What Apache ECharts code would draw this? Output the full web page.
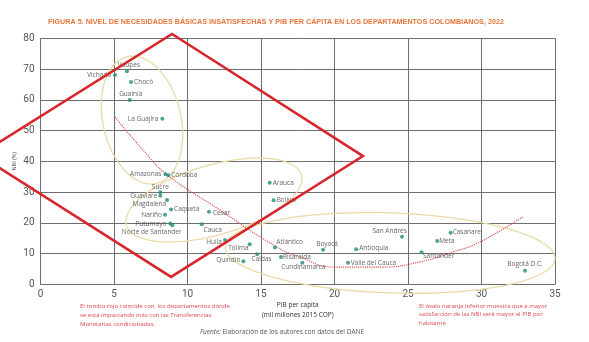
<!DOCTYPE html>
<html><head><meta charset="utf-8">
<script src="https://cdn.jsdelivr.net/npm/echarts@6/dist/echarts.min.js"></script>
<style>html,body{margin:0;padding:0;background:#fff}#c{width:589px;height:342px}</style>
</head><body><div id="c"></div>
<script>
// ---- data ----
const departamentos = ['Vichada','Vaupés','Chocó','Guainía','La Guajira','Amazonas','Córdoba','Sucre','Guaviare','Magdalena','Caquetá','Nariño','Cesar','Putumayo','Norte de Santander','Cauca','Huila','Tolima','Quindío','Caldas','Arauca','Bolívar','Atlántico','Risaralda','Cundinamarca','Boyacá','Antioquia','Valle del Cauca','San Andrés','Meta','Casanare','Santander','Bogotá D.C.'];
const pibPerCapita = [5.07,5.88,6.16,6.07,8.29,8.50,8.69,8.15,8.15,8.61,8.88,8.47,11.46,8.83,8.97,10.97,12.55,14.23,13.8,14.74,15.59,15.86,15.95,16.36,17.81,19.22,21.48,20.92,24.59,26.99,27.9,25.92,32.96];
const nbi = [68.1,69.3,65.8,59.9,53.8,35.8,35.5,29.9,28.8,27.4,24.3,22.6,23.6,19.8,19.2,19.5,14.4,13.0,7.5,9.8,33.0,27.3,12.0,8.9,7.0,11.2,11.4,7.0,15.5,14.1,16.8,10.4,4.4];
const trendX = [5.07,6.97,8.54,12.0,16.09,17.65,19.9,23.3,25.8,28.06,29.9,32.8];
const trendY = [54.4,43.7,35.9,24.8,12.1,8.9,5.6,5.6,7.3,10.5,13.8,21.9];
const xTicks = [0,5,10,15,20,25,30,35];
const yTicks = [0,10,20,30,40,50,60,70,80];
const rombo = [[8.95,81.4],[21.94,41.7],[8.88,2.4],[-4.18,42.1]];

// ---- label placement (style) ----
const lp = {
 'Vichada':['left',2,[0,0]],'Vaupés':['top',1,[2,0]],'Chocó':['right',1,[0,0]],'Guainía':['top',0,[1,0]],
 'La Guajira':['left',2,[0,0]],'Amazonas':['left',2,[0,0]],'Córdoba':['right',1,[0,0]],'Sucre':['top',0,[0,0]],
 'Guaviare':['left',1,[0,0]],'Magdalena':['left',-1,[0,4]],'Caquetá':['right',1,[0,0]],'Nariño':['left',1,[0,0]],
 'Cesar':['right',2,[0,1.5]],'Putumayo':['left',2,[0,1]],'Norte de Santander':['bottom',1,[-20.6,0]],
 'Cauca':['bottom',0,[11,0]],'Huila':['left',1,[0,1.7]],'Tolima':['left',-1,[0,4]],'Quindío':['left',1,[0,-1]],
 'Caldas':['bottom',0,[4.4,-1]],'Arauca':['right',1,[0,0]],'Bolívar':['right',1,[0,0]],'Atlántico':['top',0,[14.7,0]],
 'Risaralda':['right',0,[0,0]],'Cundinamarca':['bottom',-1,[1,0]],'Boyacá':['top',0.7,[4,0]],'Antioquia':['right',1,[0,-1]],
 'Valle del Cauca':['right',0.7,[0,0]],'San Andrés':['top',0,[-12.3,0]],'Meta':['right',0,[0,0]],'Casanare':['right',0,[0,0]],
 'Santander':['right',-0.5,[0,4]],'Bogotá D.C.':['top',0.7,[0,0]]
};

const pts = departamentos.map((n,i)=>({
  name:n, value:[pibPerCapita[i], nbi[i]],
  label:{show:true, formatter:n, position:lp[n][0], distance:lp[n][1], offset:lp[n][2]}
}));

const chart = echarts.init(document.getElementById('c'), null, {renderer:'canvas'});
const gridCol = '#6e6e6e';
chart.setOption({
  animation:false,
  backgroundColor:'#fff',
  title:{text:'FIGURA 5. NIVEL DE NECESIDADES BÁSICAS INSATISFECHAS Y PIB PER CÁPITA EN LOS DEPARTAMENTOS COLOMBIANOS, 2022',
    left:271, top:13.5, textAlign:'center',
    textStyle:{fontFamily:'Liberation Sans', fontWeight:'bold', fontSize:7.2, color:'#e4773b'}},
  grid:{left:40.5, right:34, top:38.3, bottom:57.7, containLabel:false},
  xAxis:{type:'value', min:xTicks[0], max:xTicks[xTicks.length-1], interval:5,
    name:'PIB per capita\n(mil millones 2015 COP)', nameLocation:'middle', nameGap:16, nameMoveOverlap:false,
    nameTextStyle:{fontFamily:'Open Sans', fontSize:6.5, color:'#333', lineHeight:10},
    axisLine:{show:true, lineStyle:{color:gridCol, width:1}}, axisTick:{show:false},
    axisLabel:{fontFamily:'Roboto', fontSize:10, color:'#555', margin:5},
    splitLine:{show:true, lineStyle:{color:gridCol, width:1}}},
  yAxis:{type:'value', min:yTicks[0], max:yTicks[yTicks.length-1], interval:10,
    name:'NBI (%)', nameLocation:'middle', nameGap:23, nameMoveOverlap:false,
    nameTextStyle:{fontFamily:'Open Sans', fontSize:5.5, color:'#444'},
    axisLine:{show:true, lineStyle:{color:gridCol, width:1}}, axisTick:{show:false},
    axisLabel:{fontFamily:'Roboto', fontSize:10, color:'#555', margin:6},
    splitLine:{show:true, lineStyle:{color:gridCol, width:1}}},
  series:[
    {type:'line', data:trendX.map((x,i)=>[x,trendY[i]]), smooth:0.5, symbol:'none', z:3,
     lineStyle:{color:'#d63e3c', width:1.1, type:'dotted'}, silent:true},
    {type:'scatter', data:pts, symbol:'circle', symbolSize:4, z:4,
     itemStyle:{color:'#1f8b78'},
     label:{fontFamily:'Open Sans', fontSize:6.5, color:'#3a3a3a'}}
  ]
});

function ellipse(cxD, cyD, a, b, deg){
  const c = chart.convertToPixel({gridIndex:0},[cxD,cyD]);
  const th = deg*Math.PI/180, p=[];
  for(let k=0;k<=96;k++){const t=k/96*2*Math.PI;
    p.push([c[0]+a*Math.cos(t)*Math.cos(th)-b*Math.sin(t)*Math.sin(th),
            c[1]+a*Math.cos(t)*Math.sin(th)+b*Math.sin(t)*Math.cos(th)]);}
  return {type:'polyline', shape:{points:p}, style:{stroke:'#eadba6', lineWidth:1.3, fill:null}, z:1, silent:true};
}
const romboPx = rombo.map(d=>chart.convertToPixel({gridIndex:0},d));
const redText = '#e0454f';
chart.setOption({graphic:[
  ellipse(6.9,53.4,65,39,77),
  ellipse(11.8,27.4,91,35,-16),
  ellipse(23.78,10.2,165,40,2),
  {type:'polygon', shape:{points:romboPx}, style:{stroke:'#d7262b', lineWidth:2.5, fill:null}, z:100, silent:true},
  {type:'text', left:80, top:302, z:100, style:{text:'El rombo rojo coincide con  los departamentos dónde\nse está impactando más con las Transferencias\nMonetarias condicionadas.', font:'6px "Open Sans"', fill:redText, lineHeight:8.8}},
  {type:'text', left:419, top:301.5, z:100, style:{text:'El óvalo naranja inferior muestra que a mayor\nsatisfacción de las NBI será mayor el PIB por\nhabitante', font:'6px "Open Sans"', fill:redText, lineHeight:8.8}},
  {type:'text', x:282, y:332, z:100, style:{text:'{i|Fuente:} Elaboración de los autores con datos del DANE', align:'center', verticalAlign:'middle', font:'6.5px "Open Sans"', fill:'#555',
     rich:{i:{fontStyle:'italic', fontSize:6.5, fontFamily:'Open Sans', fill:'#555'}}}}
]});
</script></body></html>
